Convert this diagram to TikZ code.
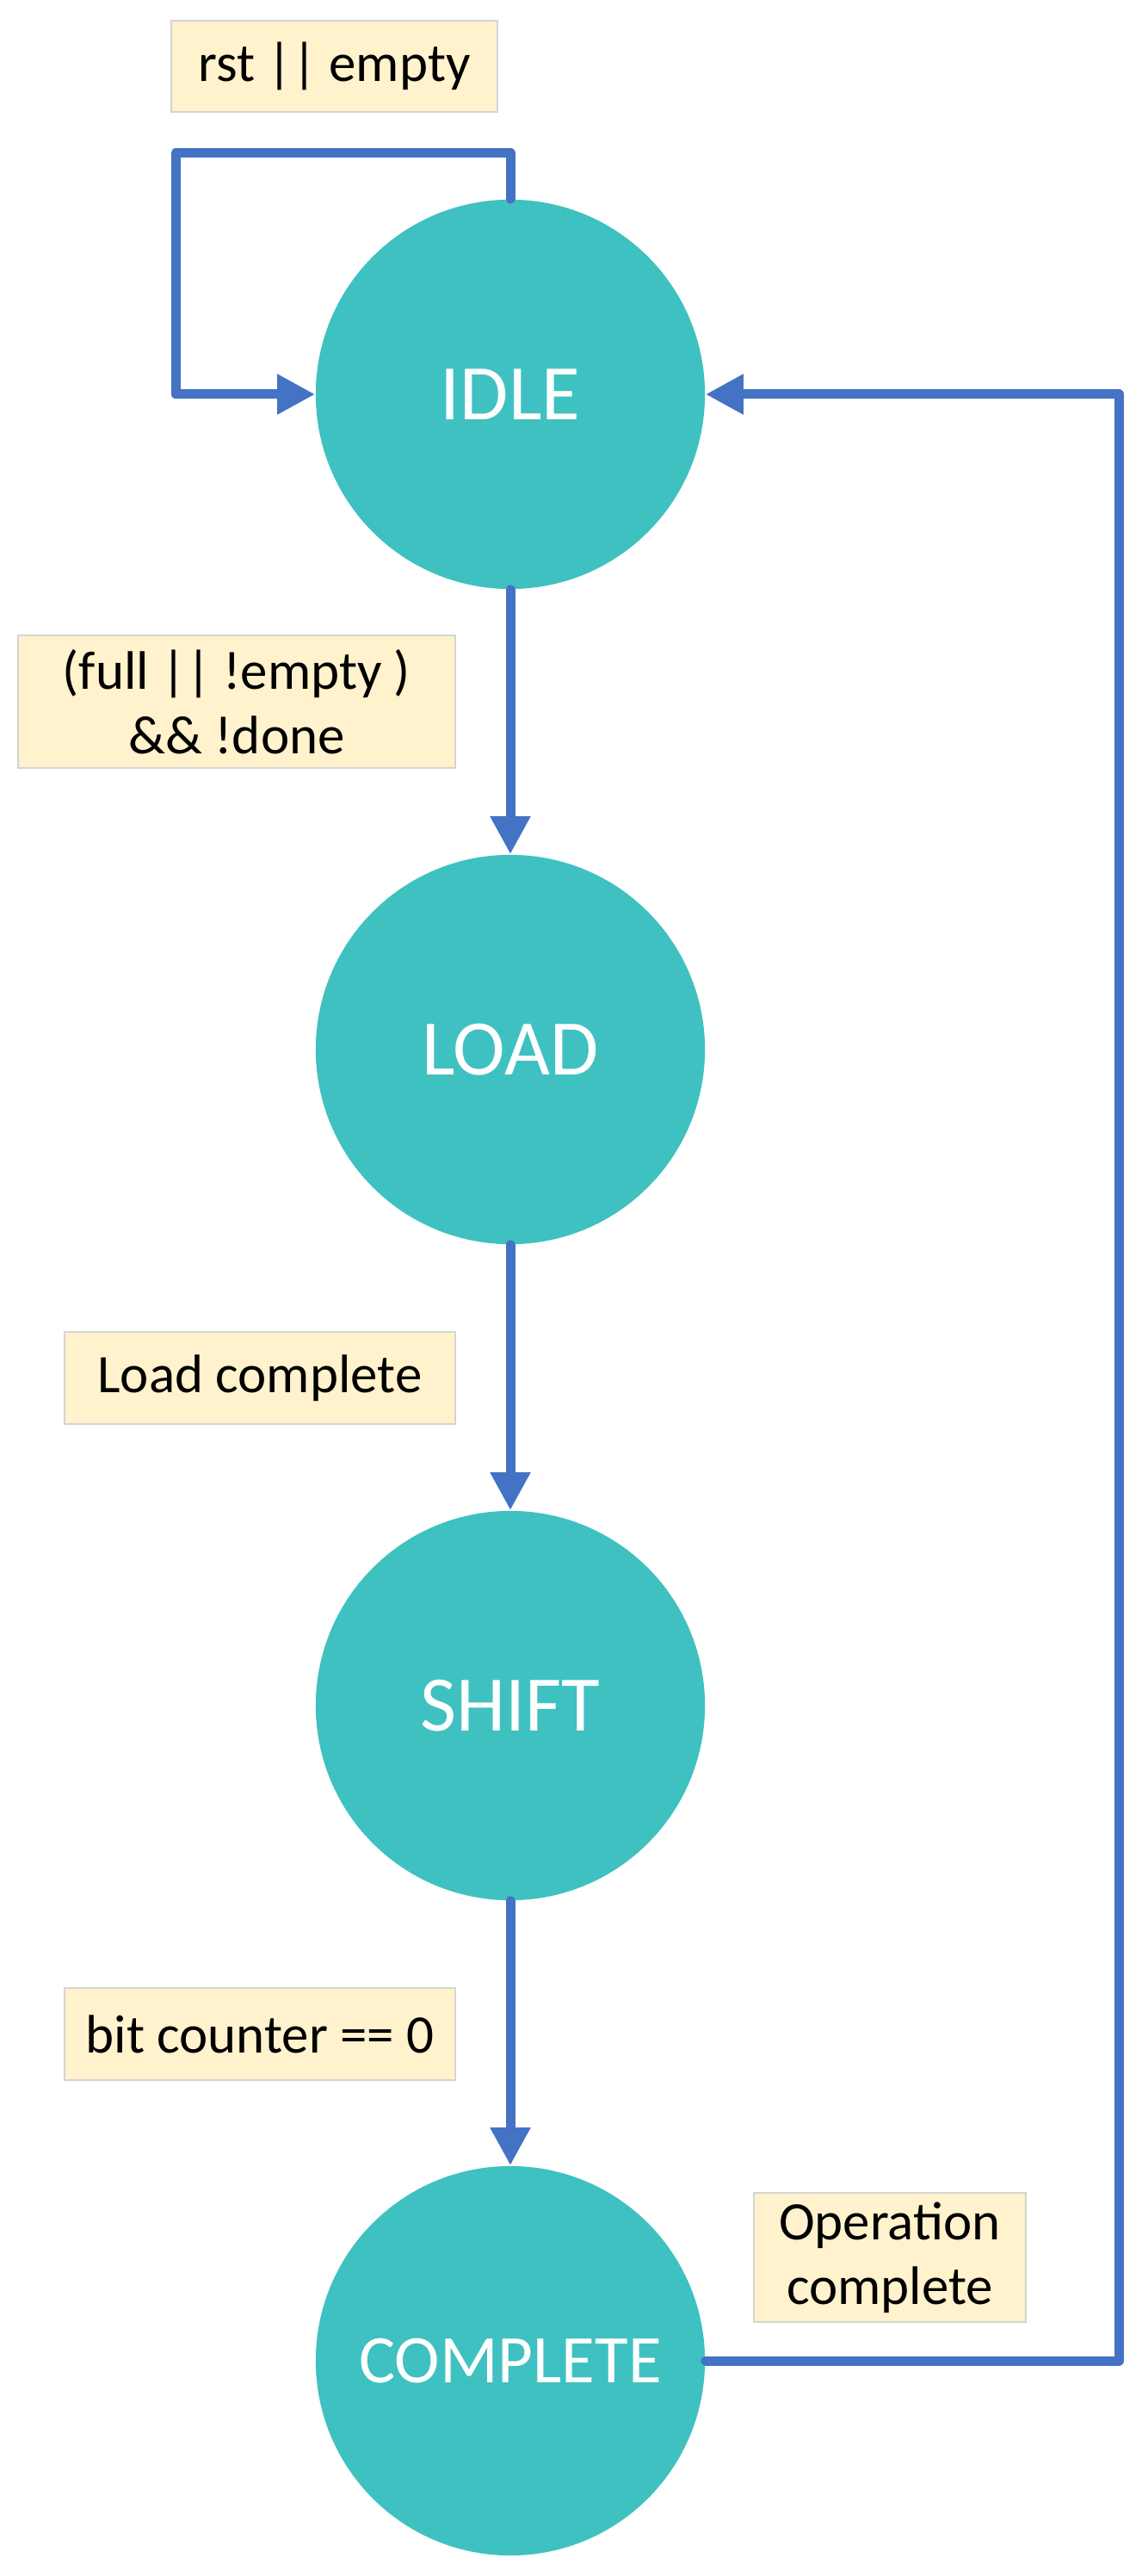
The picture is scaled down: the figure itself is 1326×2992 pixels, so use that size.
\documentclass[tikz,border=0pt]{standalone}
\usepackage{fontspec}
\setmainfont{Carlito}
\usetikzlibrary{arrows.meta}
\definecolor{statecol}{HTML}{3FC1C1}
\definecolor{linecol}{HTML}{4472C4}
\definecolor{labfill}{HTML}{FFF2CC}
\definecolor{labdraw}{HTML}{D4D4D4}
\tikzset{
  statenode/.style={circle, fill=statecol, minimum size=4.52cm, inner sep=0pt, text=white},
  bigtxt/.style={font=\fontsize{26}{31}\selectfont},
  midtxt/.style={font=\fontsize{22.5}{27}\selectfont},
  labelbox/.style={draw=labdraw, line width=0.5pt, fill=labfill, inner sep=0pt, align=center,
    font=\fontsize{17.9}{21.4}\selectfont},
  conn/.style={draw=linecol, line width=0.11cm, line cap=round, line join=round,
    -{Triangle[length=0.44cm, width=0.44cm]}}
}
\begin{document}
\begin{tikzpicture}[x=0.01cm, y=-0.01cm]
\useasboundingbox (0,0) rectangle (1326,2992);
\node[statenode, bigtxt] (idle) at (593,458) {IDLE};
\node[statenode, bigtxt] (load) at (593,1219) {LOAD};
\node[statenode, bigtxt] (shift) at (593,1981) {SHIFT};
\node[statenode, midtxt] (complete) at (593,2742) {COMPLETE};

\node[labelbox, minimum width=3.79cm, minimum height=1.06cm] (lrst) at (388.5,77) {rst || empty};
\node[labelbox, minimum width=5.08cm, minimum height=1.54cm] (lfull) at (275,815) {(full || !empty )\\\&\& !done};
\node[labelbox, minimum width=4.54cm, minimum height=1.07cm] (lload) at (302,1600.5) {Load complete};
\node[labelbox, minimum width=4.54cm, minimum height=1.07cm] (lbit) at (302,2362.5) {bit counter == 0};
\node[labelbox, minimum width=3.16cm, minimum height=1.50cm] (lop) at (1034,2622) {Operation\\complete};

\coordinate (loopc) at (204,178);
\coordinate (retc) at (1300,458);

\draw[conn] (idle.north) |- (loopc) |- (idle.west);
\draw[conn] (idle.south) -- (load.north);
\draw[conn] (load.south) -- (shift.north);
\draw[conn] (shift.south) -- (complete.north);
\draw[conn] (complete.east) -| (retc) -- (idle.east);
\end{tikzpicture}
\end{document}
